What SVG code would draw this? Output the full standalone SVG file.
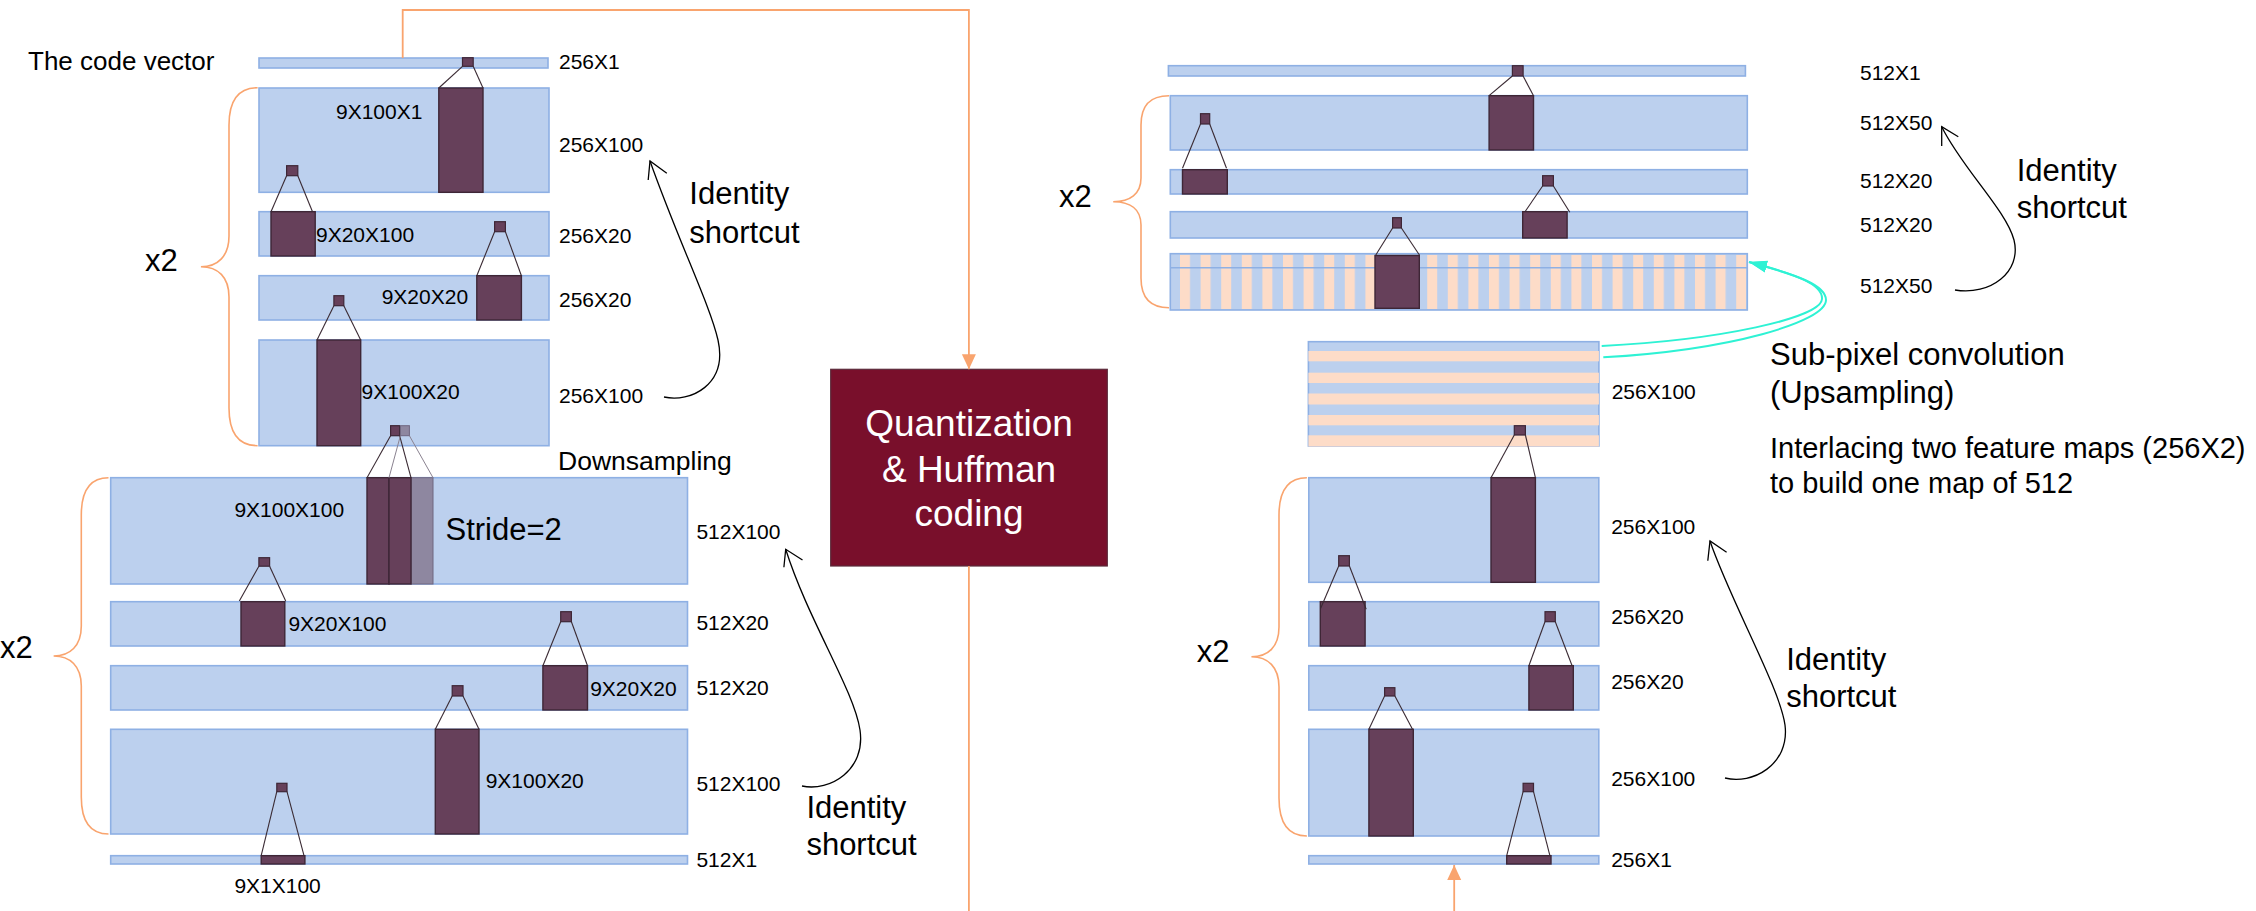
<svg xmlns="http://www.w3.org/2000/svg" width="2256" height="911" viewBox="0 0 2256 911">
  <style>
    .blk { fill: #bcd0ee; stroke: #8eb0e4; stroke-width: 1.6; }
    .ker { fill: #66405a; stroke: #3e2636; stroke-width: 1.4; }
    .kerl { fill: #8e87a0; stroke: #6f6680; stroke-width: 1; }
    .sq { fill: #66405a; stroke: #3e2636; stroke-width: 1.2; }
    .sql { fill: #8e87a0; stroke: #6f6680; stroke-width: 1; }
    .kl { stroke: #3a2a33; stroke-width: 1.1; fill: none; }
    .kll { stroke: #8a8290; stroke-width: 1; fill: none; }
    .peach { fill: #fddcc8; }
    .brace { fill: none; stroke: #f9a46e; stroke-width: 1.6; }
    .orange { fill: none; stroke: #f9a46e; stroke-width: 1.8; }
    .cyan { fill: none; stroke: #2ef2d4; stroke-width: 2; }
    .sc { fill: none; stroke: #000; stroke-width: 1.3; }
    text { font-family: "Liberation Sans", Arial, sans-serif; fill: #000; }
    .lbl { font-size: 21px; }
    .big { font-size: 31px; }
    .mid { font-size: 26.5px; }
    .qt { font-size: 37px; fill: #ffffff; text-anchor: middle; }
  </style>
  <defs>
    <marker id="arrOrange" markerWidth="16" markerHeight="16" refX="15" refY="8" orient="auto" markerUnits="userSpaceOnUse">
      <path d="M0,1 L15,8 L0,15 Z" fill="#f9a46e"/>
    </marker>
    <marker id="arrCyan" markerWidth="20" markerHeight="14" refX="18" refY="7" orient="auto" markerUnits="userSpaceOnUse">
      <path d="M0,1 L18,7 L0,13 Z" fill="#2ef2d4"/>
    </marker>
    <pattern id="vstripes" x="1180" y="0" width="20.6" height="911" patternUnits="userSpaceOnUse">
      <rect x="0" y="0" width="10" height="911" fill="#fddcc8"/>
    </pattern>
  </defs>

  <!-- ===== Encoder: 256-channel stage ===== -->
  <g id="code-vector">
    <rect class="blk" x="259" y="58" width="289" height="10"/>
    <rect class="sq" x="462.5" y="57.7" width="10.7" height="8.6"/>
    <text x="28" y="70" style="font-size:26px">The code vector</text>
    <text class="lbl" x="559" y="69">256X1</text>
  </g>

  <g id="enc-b1">
    <rect class="blk" x="259" y="88" width="290" height="104.3"/>
    <rect class="ker" x="438.8" y="88" width="44.2" height="104.3"/>
    <polyline class="kl" points="462.5,66.3 438.8,88"/>
    <polyline class="kl" points="473.2,66.3 483,88"/>
    <rect class="sq" x="286.6" y="165.7" width="11.2" height="10"/>
    <text class="lbl" x="336" y="119">9X100X1</text>
    <text class="lbl" x="559" y="152">256X100</text>
  </g>

  <g id="enc-b2">
    <rect class="blk" x="259" y="211.7" width="290" height="44.3"/>
    <rect class="ker" x="271" y="211.7" width="44.2" height="44.3"/>
    <polyline class="kl" points="286.6,175.7 271,211.7"/>
    <polyline class="kl" points="297.8,175.7 312.5,211.7"/>
    <rect class="sq" x="494.6" y="221.7" width="10.8" height="10"/>
    <text class="lbl" x="316" y="241.7">9X20X100</text>
    <text class="lbl" x="559" y="242.7">256X20</text>
  </g>

  <g id="enc-b3">
    <rect class="blk" x="259" y="275.7" width="290" height="44.3"/>
    <rect class="ker" x="476.8" y="275.7" width="44.6" height="44.3"/>
    <polyline class="kl" points="494.6,231.7 476.8,275.7"/>
    <polyline class="kl" points="505.4,231.7 521.4,275.7"/>
    <rect class="sq" x="333.9" y="295.7" width="9.9" height="10"/>
    <text class="lbl" x="381.7" y="304.3">9X20X20</text>
    <text class="lbl" x="559" y="307.3">256X20</text>
  </g>

  <g id="enc-b4">
    <rect class="blk" x="259" y="340" width="290" height="105.7"/>
    <rect class="ker" x="317" y="340" width="43.7" height="105.7"/>
    <polyline class="kl" points="333.9,305.7 317,340"/>
    <polyline class="kl" points="343.8,305.7 360.7,340"/>
    <rect class="sq" x="390.6" y="425.7" width="9" height="10"/>
    <rect class="sql" x="400.4" y="425.7" width="9" height="10"/>
    <text class="lbl" x="361.6" y="399.3">9X100X20</text>
    <text class="lbl" x="559" y="403.3">256X100</text>
  </g>

  <!-- ===== Encoder: 512-channel stage ===== -->
  <g id="enc-b5">
    <rect class="blk" x="110.7" y="477.7" width="576.8" height="106.3"/>
    <rect class="kerl" x="411" y="477.7" width="22" height="106.3"/>
    <rect class="ker" x="367" y="477.7" width="22" height="106.3"/>
    <rect class="ker" x="389" y="477.7" width="22" height="106.3"/>
    <polyline class="kl" points="390.6,435.7 367,477.7"/>
    <polyline class="kl" points="399.6,435.7 411,477.7"/>
    <polyline class="kll" points="400.4,435.7 389,477.7"/>
    <polyline class="kll" points="409.4,435.7 433,477.7"/>
    <rect class="sq" x="258.9" y="557.7" width="10.7" height="8.5"/>
    <text class="lbl" x="234.4" y="516.7">9X100X100</text>
    <text class="big" x="445.5" y="540">Stride=2</text>
    <text class="mid" x="558" y="470">Downsampling</text>
    <text class="lbl" x="696.4" y="539">512X100</text>
  </g>

  <g id="enc-b6">
    <rect class="blk" x="110.7" y="601.7" width="576.8" height="44.3"/>
    <rect class="ker" x="241" y="601.7" width="43.8" height="44.3"/>
    <polyline class="kl" points="258.9,566.2 239.3,601"/>
    <polyline class="kl" points="269.6,566.2 285.7,601"/>
    <rect class="sq" x="560.7" y="611.7" width="10.7" height="10"/>
    <text class="lbl" x="288.4" y="630.7">9X20X100</text>
    <text class="lbl" x="696.4" y="630">512X20</text>
  </g>

  <g id="enc-b7">
    <rect class="blk" x="110.7" y="665.7" width="576.8" height="44.3"/>
    <rect class="ker" x="542.9" y="665.7" width="44.6" height="44.3"/>
    <polyline class="kl" points="560.7,621.7 542.9,665.7"/>
    <polyline class="kl" points="571.4,621.7 587.5,665.7"/>
    <rect class="sq" x="452.2" y="685.7" width="10.8" height="10.3"/>
    <text class="lbl" x="590.2" y="696">9X20X20</text>
    <text class="lbl" x="696.4" y="695">512X20</text>
  </g>

  <g id="enc-b8">
    <rect class="blk" x="110.7" y="729.3" width="576.8" height="104.7"/>
    <rect class="ker" x="435.3" y="729.3" width="43.7" height="104.7"/>
    <polyline class="kl" points="452.2,696 435.3,729.3"/>
    <polyline class="kl" points="463,696 479,729.3"/>
    <rect class="sq" x="276.8" y="783.3" width="10.2" height="8.4"/>
    <text class="lbl" x="485.7" y="787.7">9X100X20</text>
    <text class="lbl" x="696.4" y="790.7">512X100</text>
  </g>

  <g id="enc-b9">
    <rect class="blk" x="110.7" y="855.7" width="576.8" height="8.3"/>
    <rect class="ker" x="261.2" y="855.7" width="43.7" height="8.3"/>
    <polyline class="kl" points="276.8,791.7 261.2,855.7"/>
    <polyline class="kl" points="287,791.7 304,855.7"/>
    <text class="lbl" x="234.4" y="892.7">9X1X100</text>
    <text class="lbl" x="696.4" y="867.3">512X1</text>
  </g>

  <g id="enc-braces">
    <path class="brace" d="M257.6,87.7 C238,87.7 229,100 229,125 L229,236 C229,256 218,266.7 200.9,266.7 C218,266.7 229,277 229,297 L229,408 C229,433 238,445.7 257.6,445.7"/>
    <text class="big" x="145" y="271">x2</text>
    <path class="brace" d="M108.5,477.7 C90,477.7 81.3,490 81.3,515 L81.3,626 C81.3,646 70,656 53.6,656 C70,656 81.3,666 81.3,686 L81.3,797 C81.3,822 90,834 108.5,834"/>
    <text class="big" x="0" y="658">x2</text>
  </g>

  <!-- ===== Quantization ===== -->
  <g id="quantizer">
    <rect x="830.7" y="369.3" width="276.6" height="196.7" fill="#790f2b" stroke="#5b2a3a" stroke-width="1.2"/>
    <text class="qt" x="969" y="436">Quantization</text>
    <text class="qt" x="969" y="481.7">&amp; Huffman</text>
    <text class="qt" x="969" y="526">coding</text>
  </g>

  <!-- ===== Decoder: 512-channel stage (drawn top to bottom) ===== -->
  <g id="dec-out">
    <rect class="blk" x="1168.4" y="65.7" width="577" height="10.3"/>
    <rect class="sq" x="1512.4" y="65.7" width="10.7" height="10.3"/>
    <text class="lbl" x="1860" y="80">512X1</text>
  </g>

  <g id="dec-r1">
    <rect class="blk" x="1170.3" y="95.7" width="577" height="54.3"/>
    <rect class="ker" x="1489.1" y="95.7" width="44.4" height="54.3"/>
    <polyline class="kl" points="1512.4,76 1489.1,95.7"/>
    <polyline class="kl" points="1523.1,76 1533.5,95.7"/>
    <rect class="sq" x="1200.5" y="113.7" width="9.2" height="10.3"/>
    <text class="lbl" x="1860" y="130">512X50</text>
  </g>

  <g id="dec-r2">
    <rect class="blk" x="1170.3" y="169.7" width="577" height="24.3"/>
    <rect class="ker" x="1182.5" y="169.7" width="44.8" height="24.3"/>
    <polyline class="kl" points="1200.5,124 1182.5,168.3"/>
    <polyline class="kl" points="1209.7,124 1226.5,168.3"/>
    <rect class="sq" x="1542.6" y="175.7" width="10.8" height="10.3"/>
    <text class="lbl" x="1860" y="187.5">512X20</text>
  </g>

  <g id="dec-r3">
    <rect class="blk" x="1170.3" y="211.7" width="577" height="26.3"/>
    <rect class="ker" x="1522.7" y="211.7" width="44.4" height="26.3"/>
    <polyline class="kl" points="1542.6,186 1525,211.7"/>
    <polyline class="kl" points="1553.4,186 1569.8,212.3"/>
    <rect class="sq" x="1392.6" y="217.7" width="8.8" height="10.3"/>
    <text class="lbl" x="1860" y="231.5">512X20</text>
  </g>

  <g id="dec-r4">
    <rect class="blk" x="1170.3" y="253.7" width="577" height="56.3"/>
    <rect x="1172" y="255" width="574" height="54" fill="url(#vstripes)"/>
    <line x1="1170.3" y1="267.7" x2="1747.3" y2="267.7" stroke="#8eb0e4" stroke-width="1.4"/>
    <rect class="ker" x="1375" y="255.5" width="44.3" height="52.8"/>
    <polyline class="kl" points="1392.6,228 1375.8,255"/>
    <polyline class="kl" points="1401.4,228 1419.4,255"/>
    <text class="lbl" x="1860" y="293">512X50</text>
  </g>

  <g id="dec-braces">
    <path class="brace" d="M1169,95.7 C1150,95.7 1141,105 1141,125 L1141,178 C1141,194 1130,201.7 1113.2,201.7 C1130,201.7 1141,209 1141,225 L1141,278 C1141,298 1150,307.7 1169,307.7"/>
    <text class="big" x="1058.9" y="206.7">x2</text>
    <path class="brace" d="M1306.9,477.7 C1288,477.7 1279,490 1279,515 L1279,627 C1279,647 1268,656.7 1251.4,656.7 C1268,656.7 1279,667 1279,687 L1279,798 C1279,823 1288,836 1306.9,836"/>
    <text class="big" x="1196.7" y="661.7">x2</text>
  </g>

  <!-- ===== Decoder: 256-channel stage ===== -->
  <!-- interlaced feature maps before the sub-pixel step -->
  <g id="dec-b5">
    <rect class="blk" x="1308.4" y="341.7" width="290.5" height="104.3"/>
    <rect class="peach" x="1308.4" y="351" width="290.5" height="10.3"/>
    <rect class="peach" x="1308.4" y="372.7" width="290.5" height="10.3"/>
    <rect class="peach" x="1308.4" y="393.5" width="290.5" height="11"/>
    <rect class="peach" x="1308.4" y="415" width="290.5" height="10.3"/>
    <rect class="peach" x="1308.4" y="435.3" width="290.5" height="11.2"/>
    <rect class="sq" x="1514.3" y="425.7" width="11.1" height="9.3"/>
    <text class="lbl" x="1611.7" y="399.3">256X100</text>
  </g>

  <g id="dec-b6">
    <rect class="blk" x="1308.8" y="477.7" width="290" height="104.6"/>
    <rect class="ker" x="1491" y="477.7" width="44.4" height="104.6"/>
    <polyline class="kl" points="1514.3,435 1491,477.7"/>
    <polyline class="kl" points="1525.4,435 1535.4,477.7"/>
    <rect class="sq" x="1338.7" y="555.7" width="10.7" height="10.3"/>
    <text class="lbl" x="1611.2" y="534.3">256X100</text>
  </g>

  <g id="dec-b7">
    <rect class="blk" x="1308.8" y="601.7" width="290" height="44.3"/>
    <rect class="ker" x="1320.3" y="601.7" width="44.8" height="44.3"/>
    <polyline class="kl" points="1338.7,566 1320.7,608.3"/>
    <polyline class="kl" points="1349.4,566 1366.2,609.3"/>
    <rect class="sq" x="1545" y="611.7" width="10.3" height="10"/>
    <text class="lbl" x="1611.2" y="624">256X20</text>
  </g>

  <g id="dec-b8">
    <rect class="blk" x="1308.8" y="665.7" width="290" height="44.3"/>
    <rect class="ker" x="1528.9" y="665.7" width="44.4" height="44.3"/>
    <polyline class="kl" points="1545,621.7 1528.9,665.7"/>
    <polyline class="kl" points="1555.3,621.7 1572.1,665.7"/>
    <rect class="sq" x="1384.6" y="687.7" width="10.3" height="8.3"/>
    <text class="lbl" x="1611.2" y="689.3">256X20</text>
  </g>

  <g id="dec-b9">
    <rect class="blk" x="1308.8" y="729.3" width="290" height="106.7"/>
    <rect class="ker" x="1368.9" y="729.3" width="44.4" height="106.7"/>
    <polyline class="kl" points="1384.6,696 1368.9,729.3"/>
    <polyline class="kl" points="1394.9,696 1412.5,729.3"/>
    <rect class="sq" x="1523.1" y="783.3" width="10.4" height="8.4"/>
    <text class="lbl" x="1611.2" y="786">256X100</text>
  </g>

  <g id="dec-b10">
    <rect class="blk" x="1308.8" y="855.7" width="290" height="8.3"/>
    <rect class="ker" x="1506.7" y="855.7" width="44.3" height="8.3"/>
    <polyline class="kl" points="1523.1,791.7 1506.7,855.7"/>
    <polyline class="kl" points="1533.5,791.7 1549.9,855.7"/>
    <text class="lbl" x="1611.2" y="867.3">256X1</text>
  </g>

  <!-- annotations -->
  <g id="notes">
    <text class="big" x="689.3" y="204">Identity</text>
    <text class="big" x="689.3" y="242.7">shortcut</text>
    <text class="big" x="806.4" y="817.7">Identity</text>
    <text class="big" x="806.4" y="855">shortcut</text>
    <text class="big" x="2016.7" y="181">Identity</text>
    <text class="big" x="2016.7" y="218.3">shortcut</text>
    <text class="big" x="1786.2" y="670">Identity</text>
    <text class="big" x="1786.2" y="706.7">shortcut</text>
    <text class="big" x="1770" y="365">Sub-pixel convolution</text>
    <text class="big" x="1770" y="403.3">(Upsampling)</text>
    <text class="big" x="1770" y="458.3" style="font-size:29px">Interlacing two feature maps (256X2)</text>
    <text class="big" x="1770" y="493.3" style="font-size:29px">to build one map of 512</text>
  </g>

  <!-- ===== Connectors ===== -->
  <g id="connectors">
    <path class="orange" d="M402.7,58 V10 H968.9 V369.3" marker-end="url(#arrOrange)"/>
    <line class="orange" x1="968.9" y1="566" x2="968.9" y2="911"/>
    <line class="orange" x1="1454.2" y1="911" x2="1454.2" y2="865" marker-end="url(#arrOrange)"/>

    <path class="cyan" d="M1601.7,346 C1720,340 1821,318 1822,299 C1823,284 1795,274 1749,262" marker-end="url(#arrCyan)"/>
    <path class="cyan" d="M1603.3,357.3 C1730,350 1826,322 1826,300 C1826,285 1797,275 1749,262" marker-end="url(#arrCyan)"/>

    <path class="sc" d="M664,397 C690,403 728,385 718,340 C710,305 678,240 650,161"/>
    <polyline class="sc" points="648.2,180 650,161 666.8,173.3"/>
    <path class="sc" d="M802,786 C830,792 866,770 860,730 C854,690 808,620 785.7,549.3"/>
    <polyline class="sc" points="783.9,567.3 785.7,549.3 802.5,560"/>
    <path class="sc" d="M1955,290 C1990,296 2022,272 2014,240 C2006,210 1962,168 1941.7,126.7"/>
    <polyline class="sc" points="1941.7,146 1941.7,126.7 1958.3,136.7"/>
    <path class="sc" d="M1725,778 C1752,785 1790,765 1785,725 C1780,688 1730,600 1710,541"/>
    <polyline class="sc" points="1707.8,560.7 1710,541 1726.6,552.3"/>
  </g>
</svg>
